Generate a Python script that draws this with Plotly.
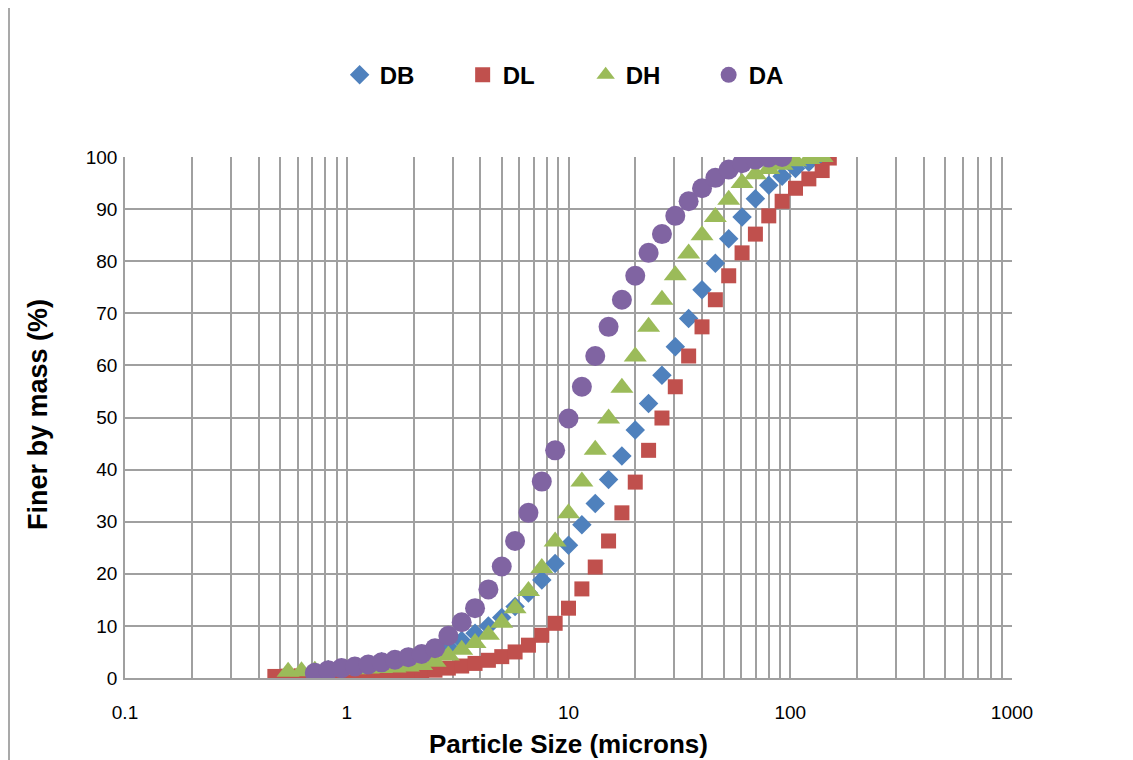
import plotly.graph_objects as go

# Particle-size grid (microns) (geometric steps)
size_grid = [0.474, 0.544, 0.625, 0.718, 0.825, 0.947, 1.088, 1.25, 1.436, 1.649,
             1.895, 2.176, 2.5, 2.872, 3.299, 3.789, 4.353, 5.0, 5.743, 6.598,
             7.579, 8.706, 10.0, 11.49, 13.2, 15.16, 17.41, 20.0, 22.97, 26.39,
             30.31, 34.82, 40.0, 45.95, 52.78, 60.63, 69.64, 80.0, 91.9, 105.6,
             121.3, 139.3]

db_size = size_grid[3:]
db_pct = [1.3, 1.6, 1.9, 2.2, 2.6, 3.1, 3.5, 4.0, 4.5, 5.2, 6.0, 7.2, 8.6, 10.0, 11.6,
          13.7, 16.3, 18.8, 22.0, 25.5, 29.4, 33.5, 38.1, 42.6, 47.6, 52.7, 58.1,
          63.6, 69.0, 74.5, 79.6, 84.3, 88.5, 92.0, 94.6, 96.3, 97.8, 99.0, 100.0]

dl_size = size_grid + [150.0]
dl_pct = [0.3, 0.35, 0.4, 0.45, 0.5, 0.55, 0.6, 0.7, 0.8, 0.9, 1.0, 1.2, 1.5, 1.9,
          2.3, 2.8, 3.4, 4.1, 5.0, 6.3, 8.2, 10.5, 13.4, 17.1, 21.3, 26.3, 31.7,
          37.6, 43.7, 49.9, 55.9, 61.8, 67.4, 72.6, 77.2, 81.6, 85.2, 88.7, 91.5,
          94.0, 95.8, 97.4, 99.8]

dh_size = size_grid[1:]
dh_pct = [1.2, 1.3, 1.4, 1.5, 1.6, 1.7, 1.8, 1.9, 2.0, 2.2, 2.5, 3.1, 4.3, 5.4, 6.7,
          8.3, 10.6, 13.4, 16.7, 21.1, 26.2, 31.6, 37.7, 43.8, 49.8, 55.7, 61.7,
          67.4, 72.6, 77.3, 81.5, 85.0, 88.5, 91.8, 95.0, 96.7, 97.7, 98.5, 99.2,
          99.6, 100.0]

da_size = size_grid[3:39]
da_pct = [1.0, 1.5, 1.9, 2.2, 2.6, 3.0, 3.5, 4.0, 4.6, 5.7, 8.1, 10.7, 13.4, 17.0,
          21.4, 26.3, 31.7, 37.7, 43.7, 49.8, 55.9, 61.8, 67.4, 72.6, 77.2, 81.6,
          85.2, 88.7, 91.5, 94.0, 96.0, 97.6, 98.8, 99.5, 99.9, 100.0]

x_tickvals = [0.1, 1, 10, 100, 1000]
x_ticktext = ["0.1", "1", "10", "100", "1000"]
y_tickvals = [0, 10, 20, 30, 40, 50, 60, 70, 80, 90, 100]

FONT = "Liberation Sans, Arial, sans-serif"
GRID = "#a0a0a0"

series = [
    ("DB", db_size, db_pct, "#4F81BD", "diamond", 15),
    ("DL", dl_size, dl_pct, "#C0504D", "square", 15),
    ("DH", dh_size, dh_pct, "#9BBB59", "triangle-up", 20),
    ("DA", da_size, da_pct, "#8064A2", "circle", 20),
]

fig = go.Figure()
for name, xs, ys, color, symbol, size in series:
    fig.add_trace(go.Scatter(
        x=xs, y=ys, mode="markers", name=name,
        marker=dict(symbol=symbol, size=size, color=color, line=dict(width=0)),
    ))

# page body has an 8px margin; figure sized so the plot area lands at x 125-1012, y 157-678
fig.update_layout(
    width=1125, height=752,
    margin=dict(l=117, r=121, t=149, b=82),
    paper_bgcolor="white", plot_bgcolor="white",
    font=dict(family=FONT, size=19, color="black"),
    showlegend=True,
    legend=dict(
        orientation="h", x=0.242, xanchor="left", y=1.157, yanchor="middle",
        entrywidth=78, entrywidthmode="pixels",
        font=dict(family=FONT, size=24, color="black", weight="bold"),
        itemsizing="trace", bgcolor="rgba(0,0,0,0)",
    ),
    xaxis=dict(
        type="log", range=[-1, 3],
        tickvals=x_tickvals, ticktext=x_ticktext,
        showgrid=True, gridcolor=GRID, gridwidth=1.5,
        minor=dict(dtick="D1", showgrid=True, gridcolor=GRID, gridwidth=1.5),
        showline=True, linecolor=GRID, linewidth=1.5,
        ticks="", ticklabelstandoff=16, zeroline=False,
        tickfont=dict(family=FONT, size=19, color="black"),
    ),
    yaxis=dict(
        range=[0, 100], tickvals=y_tickvals,
        showgrid=True, gridcolor=GRID, gridwidth=1.5,
        showline=True, linecolor=GRID, linewidth=1.5,
        ticks="", ticklabelstandoff=2, zeroline=False,
        tickfont=dict(family=FONT, size=19, color="black"),
    ),
    annotations=[
        dict(text="Particle Size (microns)", xref="paper", yref="paper",
             x=0.5, y=-0.1265, xanchor="center", yanchor="middle", showarrow=False,
             font=dict(family=FONT, size=26, color="black", weight="bold")),
        dict(text="Finer by mass (%)", xref="paper", yref="paper",
             x=-0.098, y=0.505, xanchor="center", yanchor="middle", showarrow=False,
             textangle=-90,
             font=dict(family=FONT, size=27, color="black", weight="bold")),
    ],
    shapes=[
        dict(type="line", xref="paper", yref="paper",
             x0=(9 - 125) / 887, x1=(9 - 125) / 887,
             y0=(678 - 800) / 521, y1=(678 - 0) / 521,
             line=dict(color="#8c8c8c", width=1.5), layer="below"),
        dict(type="line", xref="paper", yref="paper",
             x0=(1128 - 125) / 887, x1=(1128 - 125) / 887,
             y0=(678 - 800) / 521, y1=(678 - 0) / 521,
             line=dict(color="#8c8c8c", width=1.5), layer="below"),
    ],
)

fig.write_html("out.html")
